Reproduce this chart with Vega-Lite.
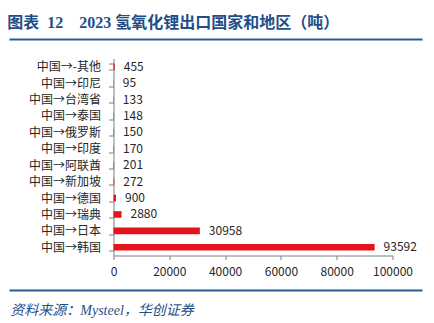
{
  "$schema": "https://vega.github.io/schema/vega-lite/v6.json",
  "padding": {"left": 6, "top": 14, "right": 0, "bottom": 0},
  "background": "white",
  "spacing": 9.5,
  "config": {"view": {"stroke": null}, "font": "Noto Sans CJK SC"},
  "vconcat": [
    {
      "width": 413,
      "height": 1,
      "title": {
        "text": "图表\u00a0\u00a012\u00a0\u00a0\u00a0\u00a02023 氢氧化锂出口国家和地区（吨）",
        "anchor": "start",
        "fontSize": 16,
        "fontWeight": "bold",
        "font": "Liberation Serif, Noto Sans CJK SC",
        "color": "#1F4E89",
        "offset": 5,
        "dx": 1
      },
      "data": {"values": [{"v": 0}]},
      "mark": {"type": "point", "opacity": 0},
      "encoding": {
        "x": {"field": "v", "type": "quantitative", "scale": {"domain": [0, 1]}, "axis": {"domain": true, "domainColor": "#2E5A93", "domainWidth": 2, "tickSize": 0, "labels": false, "title": null, "grid": false}}
      }
    },
    {
      "spacing": 3.5,
      "hconcat": [
        {
          "width": 1,
          "height": 197,
          "data": {"values": [{"v": 0}]},
          "mark": {"type": "point", "opacity": 0}
        },
        {
          "width": 279,
          "height": 197,
          "data": {
            "values": [
              {"route": "中国→-其他", "tons": 455},
              {"route": "中国→印尼", "tons": 95},
              {"route": "中国→台湾省", "tons": 133},
              {"route": "中国→泰国", "tons": 148},
              {"route": "中国→俄罗斯", "tons": 150},
              {"route": "中国→印度", "tons": 170},
              {"route": "中国→阿联酋", "tons": 201},
              {"route": "中国→新加坡", "tons": 272},
              {"route": "中国→德国", "tons": 900},
              {"route": "中国→瑞典", "tons": 2880},
              {"route": "中国→日本", "tons": 30958},
              {"route": "中国→韩国", "tons": 93592}
            ]
          },
          "encoding": {
            "y": {
              "field": "route",
              "type": "nominal",
              "sort": null,
              "scale": {"paddingInner": 0.6, "paddingOuter": 0.3},
              "axis": {
                "title": " ",
                "titleAngle": 0,
                "titleAlign": "left",
                "titleBaseline": "top",
                "titleX": -97,
                "titleY": -6.5,
                "tickBand": "extent",
                "tickSize": 5,
                "tickColor": "#7f7f7f",
                "domainColor": "#7f7f7f",
                "labelFontSize": 12,
                "labelColor": "#262626",
                "labelPadding": 8,
                "labelFont": "Noto Sans CJK SC"
              }
            }
          },
          "layer": [
            {
              "mark": {"type": "bar", "color": "#E5131C"},
              "encoding": {
                "x": {
                  "field": "tons",
                  "type": "quantitative",
                  "scale": {"domain": [0, 100000], "nice": false},
                  "axis": {
                    "values": [0, 20000, 40000, 60000, 80000, 100000],
                    "format": "d",
                    "grid": false,
                    "tickSize": 4,
                    "labelPadding": 6.5,
                    "labelFontSize": 12,
                    "labelColor": "#262626",
                    "labelFont": "Noto Sans CJK SC",
                    "domainColor": "#7f7f7f",
                    "tickColor": "#7f7f7f",
                    "title": null,
                    "labelFlush": false
                  }
                }
              }
            },
            {
              "mark": {"type": "text", "align": "left", "dx": 9, "fontSize": 12, "color": "#262626", "font": "Noto Sans CJK SC"},
              "encoding": {
                "x": {"field": "tons", "type": "quantitative"},
                "text": {"field": "tons", "type": "quantitative", "format": "d"}
              }
            }
          ]
        }
      ]
    },
    {
      "width": 413,
      "height": 1,
      "title": {
        "text": "资料来源：Mysteel，华创证券",
        "orient": "bottom",
        "anchor": "start",
        "fontSize": 14,
        "fontStyle": "italic",
        "fontWeight": "normal",
        "font": "Liberation Serif, Noto Sans CJK SC",
        "color": "#1F4E89",
        "offset": 11,
        "dx": 4
      },
      "data": {"values": [{"v": 0}]},
      "mark": {"type": "point", "opacity": 0},
      "encoding": {
        "x": {"field": "v", "type": "quantitative", "scale": {"domain": [0, 1]}, "axis": {"orient": "top", "domain": true, "domainColor": "#2E5A93", "domainWidth": 2, "tickSize": 0, "labels": false, "title": null, "grid": false}}
      }
    }
  ]
}
